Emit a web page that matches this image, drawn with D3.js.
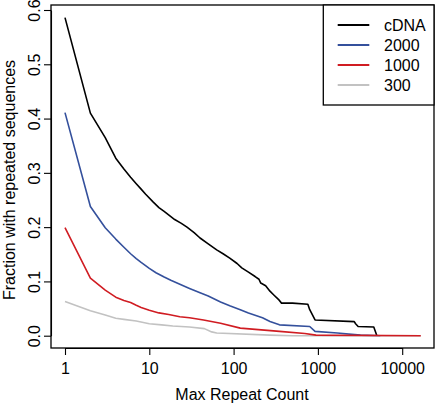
<!DOCTYPE html>
<html>
<head>
<meta charset="utf-8">
<script src="https://cdn.jsdelivr.net/npm/d3@7/dist/d3.min.js"></script>
<style>
  html, body { margin: 0; padding: 0; background: #fff; }
  svg { display: block; }
  text { font-family: "Liberation Sans", Arial, Helvetica, sans-serif; fill: #000; }
</style>
</head>
<body>
<svg id="chart" width="435" height="403"></svg>
<script>
// ---- data ----
const seriesNames = ["cDNA", "2000", "1000", "300"];
const seriesColors = ["#000000", "#34509c", "#d01c22", "#c2c2c2"];

const cdnaX = [1, 2, 3, 4, 5, 6, 7, 8, 9, 11, 13, 15, 20, 24, 28, 34, 40, 50, 63, 75, 90, 110, 125, 150, 180, 200, 210, 240, 270, 300, 340, 370, 500, 760, 800, 925, 2700, 2800, 3000, 4600, 4900, 5000];
const cdnaY = [0.586, 0.410, 0.365, 0.327, 0.307, 0.292, 0.280, 0.270, 0.261, 0.247, 0.236, 0.229, 0.214, 0.207, 0.200, 0.190, 0.180, 0.169, 0.158, 0.151, 0.143, 0.133, 0.125, 0.117, 0.109, 0.104, 0.097, 0.092, 0.082, 0.075, 0.067, 0.060, 0.060, 0.058, 0.048, 0.029, 0.026, 0.022, 0.017, 0.016, 0.004, 0.0];

const s2000X = [1, 2, 3, 4, 5, 6, 7, 8, 10, 12, 15, 18, 22, 30, 40, 50, 70, 90, 120, 150, 220, 270, 350, 800, 925, 1700, 3200, 5500];
const s2000Y = [0.411, 0.238, 0.199, 0.178, 0.163, 0.151, 0.142, 0.135, 0.124, 0.116, 0.108, 0.102, 0.096, 0.087, 0.079, 0.073, 0.062, 0.055, 0.048, 0.042, 0.033, 0.026, 0.020, 0.017, 0.008, 0.005, 0.001, 0.0];

const s1000X = [1, 2, 3, 4, 5, 6, 7, 8, 10, 13, 17, 23, 30, 44, 70, 120, 350, 700, 950, 16600];
const s1000Y = [0.199, 0.106, 0.084, 0.071, 0.065, 0.061, 0.056, 0.052, 0.047, 0.042, 0.039, 0.035, 0.033, 0.029, 0.023, 0.014, 0.008, 0.004, 0.001, 0.0];

const s300X = [1, 2, 3, 4, 5, 7, 10, 14, 19, 30, 45, 55, 63, 270, 500, 16600];
const s300Y = [0.063, 0.046, 0.038, 0.032, 0.030, 0.027, 0.022, 0.020, 0.018, 0.016, 0.013, 0.007, 0.005, 0.001, 0.0, 0.0];

const xTicks = [1, 10, 100, 1000, 10000];
const yTicks = [0.0, 0.1, 0.2, 0.3, 0.4, 0.5, 0.6];

const xTitle = "Max Repeat Count";
const yTitle = "Fraction with repeated sequences";

// ---- layout ----
const box = { left: 51, right: 434, top: 5, bottom: 348 };
const svg = d3.select("#chart");

const x = d3.scaleLog().domain([1, 10000]).range([65, 402.2]);
const y = d3.scaleLinear().domain([0, 0.6]).range([335.7, 10]);

// plot box
svg.append("rect")
  .attr("x", box.left).attr("y", box.top)
  .attr("width", box.right - box.left).attr("height", box.bottom - box.top)
  .attr("fill", "none").attr("stroke", "#000").attr("stroke-width", 1.3);

// y axis
const yAxis = svg.append("g")
  .attr("transform", `translate(${box.left},0)`)
  .call(d3.axisLeft(y).tickValues(yTicks).tickSize(7).tickSizeOuter(0).tickFormat(d3.format(".1f")));
yAxis.select(".domain").attr("stroke", "#000").attr("stroke-width", 1.1);
yAxis.selectAll(".tick line").attr("stroke", "#000").attr("stroke-width", 1.1);
yAxis.selectAll(".tick text")
  .attr("transform", "rotate(-90)")
  .attr("x", 0).attr("y", -11).attr("dy", 0)
  .attr("text-anchor", "middle")
  .style("font-size", "16px")
  .style("font-family", "'Liberation Sans', Arial, sans-serif")
  .attr("fill", "#000");

// x axis
const xAxis = svg.append("g")
  .attr("transform", `translate(0,${box.bottom})`)
  .call(d3.axisBottom(x).tickValues(xTicks).tickSize(7).tickSizeOuter(0).tickFormat(d3.format("d")));
xAxis.select(".domain").attr("stroke", "#000").attr("stroke-width", 1.1);
xAxis.selectAll(".tick line").attr("stroke", "#000").attr("stroke-width", 1.1);
xAxis.selectAll(".tick text")
  .attr("y", 25.5).attr("dy", 0)
  .style("font-size", "16px")
  .style("font-family", "'Liberation Sans', Arial, sans-serif")
  .attr("fill", "#000");

// titles
svg.append("text")
  .attr("x", 242).attr("y", 399.5)
  .attr("text-anchor", "middle")
  .style("font-size", "16px")
  .text(xTitle);

svg.append("text")
  .attr("transform", "translate(15,180) rotate(-90)")
  .attr("text-anchor", "middle")
  .style("font-size", "16px")
  .text(yTitle);

// lines
const line = d3.line().x(d => x(d[0])).y(d => y(d[1]));
const series = [
  { name: seriesNames[0], color: seriesColors[0], xs: cdnaX, ys: cdnaY },
  { name: seriesNames[1], color: seriesColors[1], xs: s2000X, ys: s2000Y },
  { name: seriesNames[3], color: seriesColors[3], xs: s300X, ys: s300Y },
  { name: seriesNames[2], color: seriesColors[2], xs: s1000X, ys: s1000Y }
];
series.forEach(s => {
  svg.append("path")
    .datum(s.xs.map((v, i) => [v, s.ys[i]]))
    .attr("d", line)
    .attr("fill", "none")
    .attr("stroke", s.color)
    .attr("stroke-width", 1.6)
    .attr("stroke-linejoin", "round");
});

// legend
const lg = { x0: 323.3, y0: 5, x1: 434, y1: 105 };
svg.append("rect")
  .attr("x", lg.x0).attr("y", lg.y0)
  .attr("width", lg.x1 - lg.x0).attr("height", lg.y1 - lg.y0)
  .attr("fill", "#fff").attr("stroke", "#000").attr("stroke-width", 1.3);
seriesNames.forEach((n, i) => {
  const cy = 25 + i * 20;
  svg.append("line")
    .attr("x1", 337.7).attr("x2", 369.3).attr("y1", cy).attr("y2", cy)
    .attr("stroke", seriesColors[i]).attr("stroke-width", 2);
  svg.append("text")
    .attr("x", 384).attr("y", cy + 6)
    .style("font-size", "16px")
    .text(n);
});
</script>
</body>
</html>
